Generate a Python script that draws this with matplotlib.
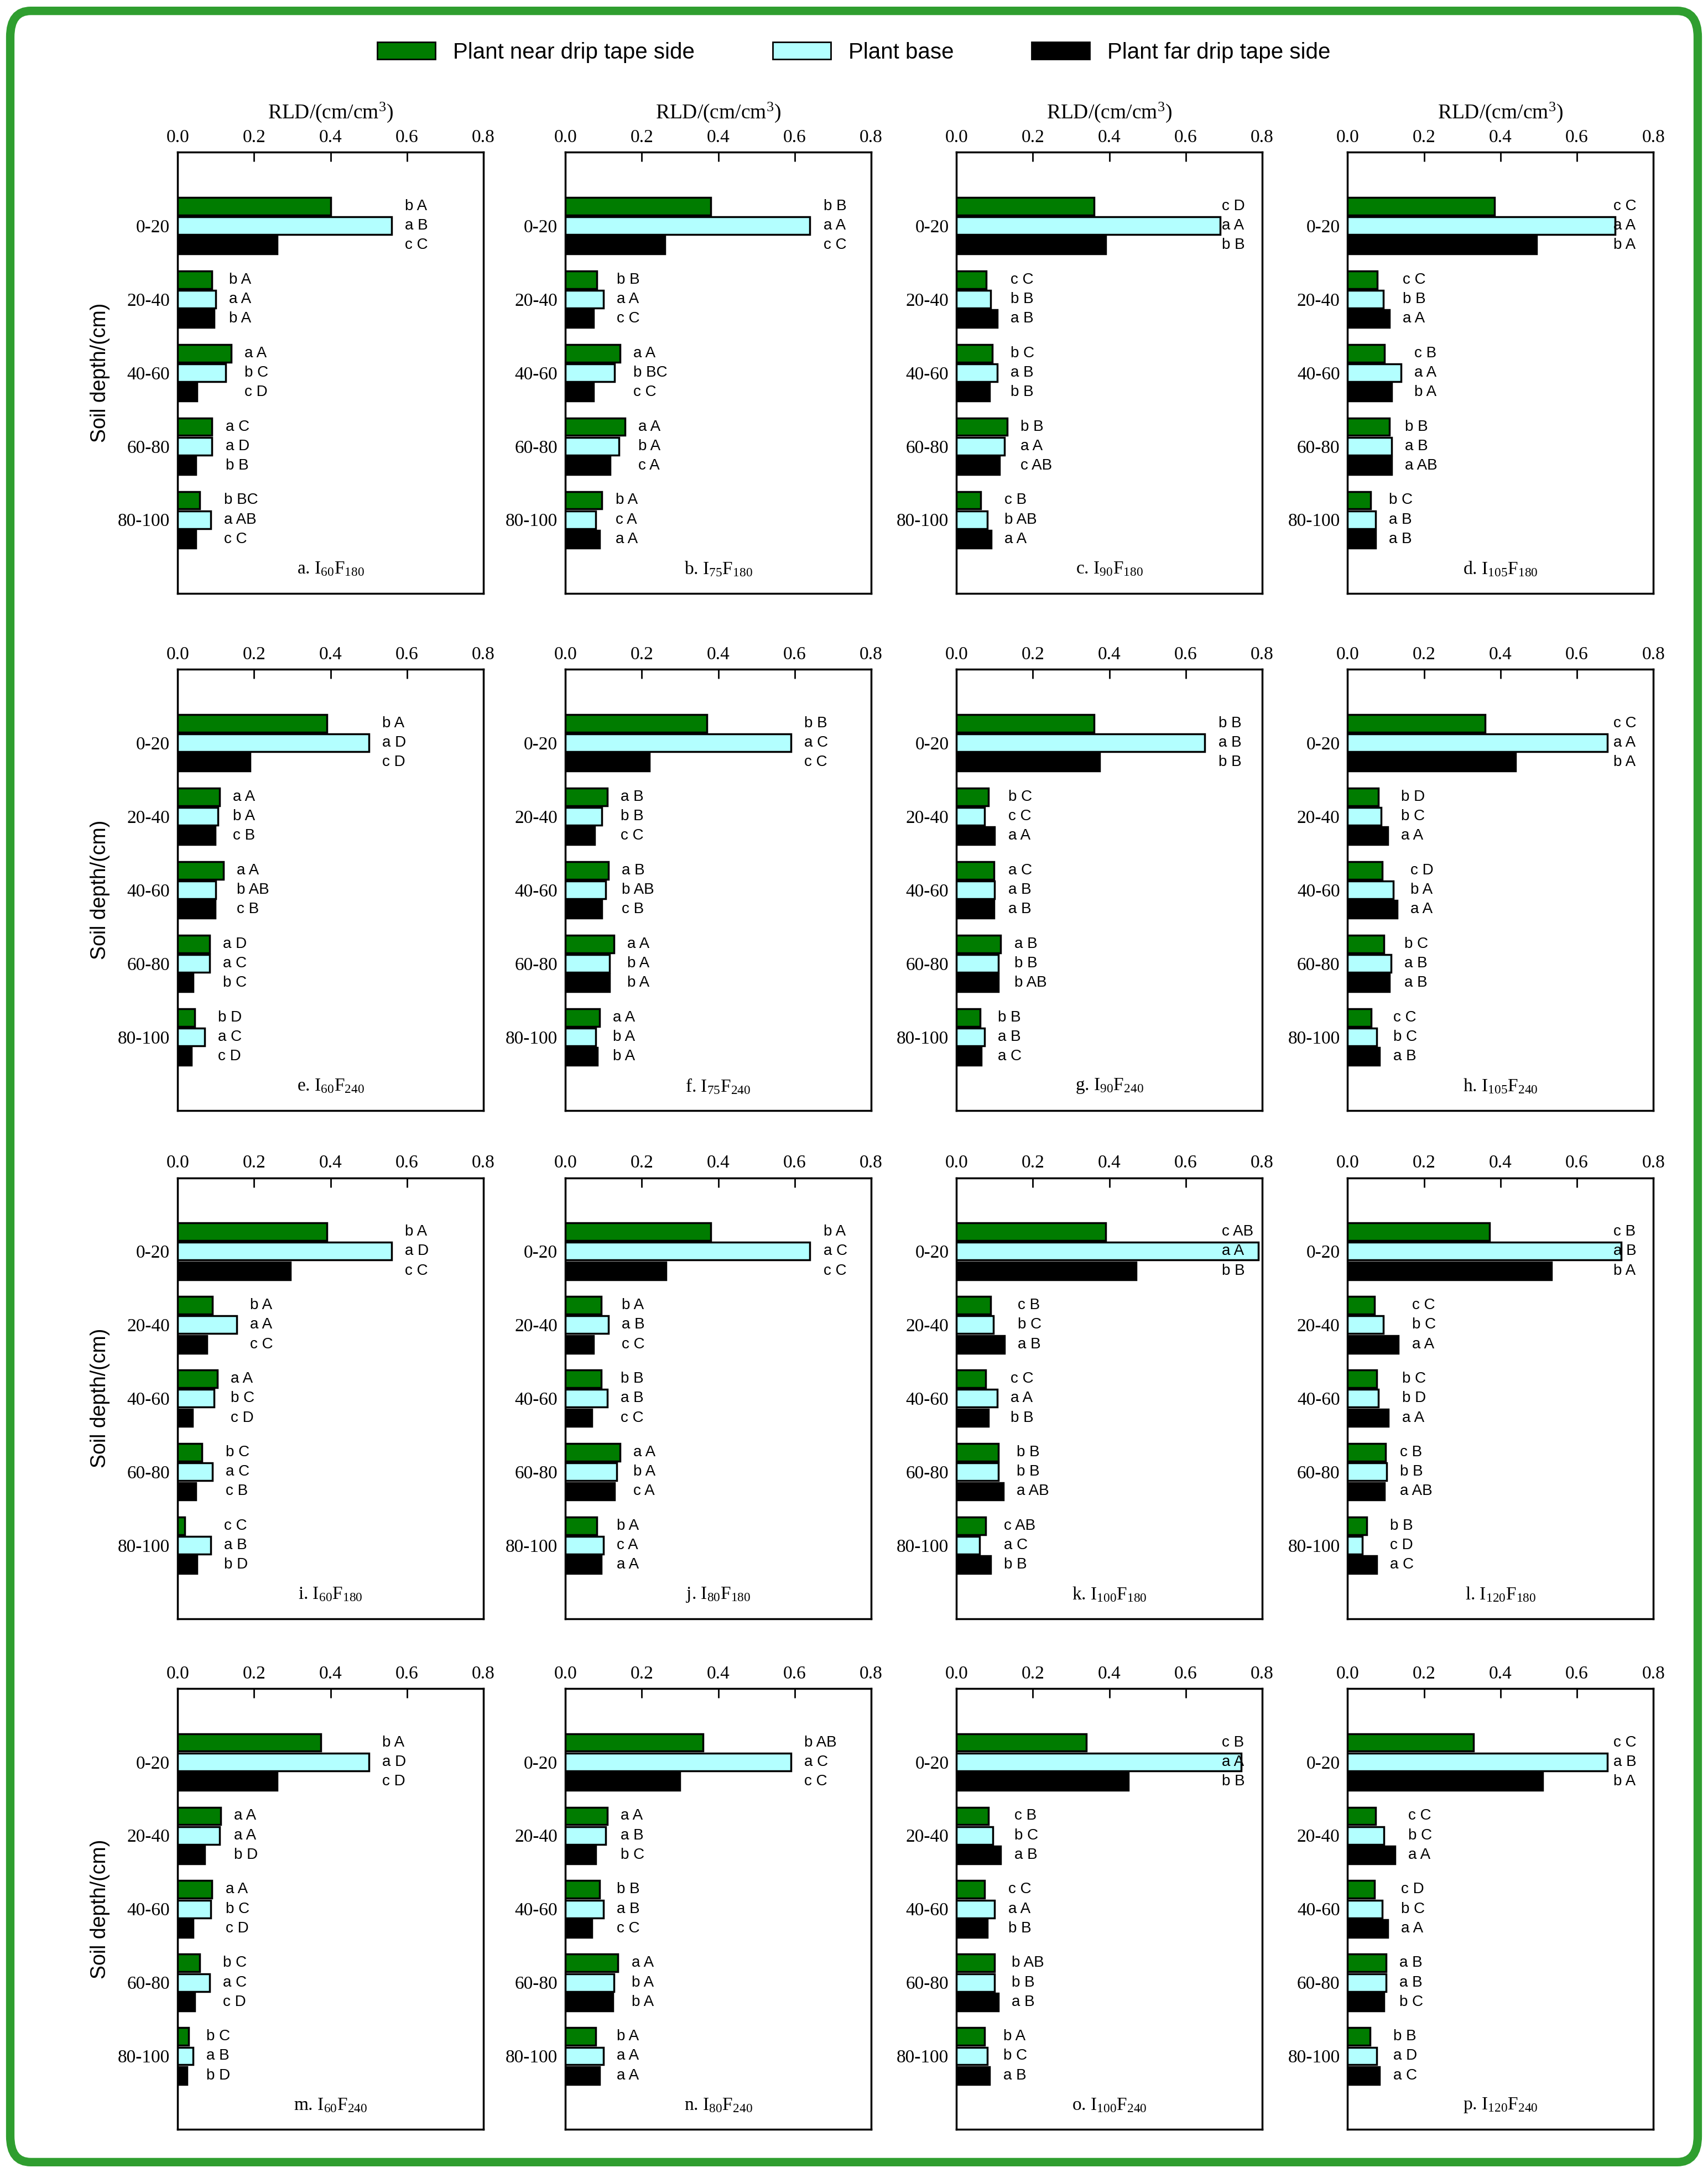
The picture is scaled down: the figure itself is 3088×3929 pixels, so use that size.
import matplotlib
matplotlib.use("Agg")
import matplotlib.pyplot as plt
from matplotlib.patches import FancyBboxPatch, Patch

plt.rcParams["mathtext.fontset"] = "custom"
plt.rcParams["mathtext.rm"] = "Liberation Serif"
plt.rcParams["mathtext.it"] = "Liberation Serif:italic"

depths = ["0-20", "20-40", "40-60", "60-80", "80-100"]
series_names = ["Plant near drip tape side", "Plant base", "Plant far drip tape side"]
panel_titles = [
    ("a", "60", "180"), ("b", "75", "180"), ("c", "90", "180"), ("d", "105", "180"),
    ("e", "60", "240"), ("f", "75", "240"), ("g", "90", "240"), ("h", "105", "240"),
    ("i", "60", "180"), ("j", "80", "180"), ("k", "100", "180"), ("l", "120", "180"),
    ("m", "60", "240"), ("n", "80", "240"), ("o", "100", "240"), ("p", "120", "240"),
]

# per panel: near, base, far (depth order 0-20 .. 80-100)
near = [
    [0.40, 0.09, 0.14, 0.09, 0.057], [0.38, 0.083, 0.143, 0.156, 0.096],
    [0.36, 0.078, 0.094, 0.133, 0.063], [0.385, 0.078, 0.096, 0.109, 0.06],
    [0.39, 0.11, 0.12, 0.084, 0.044], [0.37, 0.11, 0.113, 0.127, 0.09],
    [0.36, 0.084, 0.098, 0.116, 0.062], [0.36, 0.08, 0.09, 0.095, 0.062],
    [0.39, 0.091, 0.104, 0.063, 0.018], [0.38, 0.094, 0.094, 0.143, 0.083],
    [0.39, 0.089, 0.076, 0.109, 0.076], [0.372, 0.07, 0.076, 0.099, 0.05],
    [0.375, 0.113, 0.09, 0.058, 0.029], [0.36, 0.11, 0.09, 0.138, 0.08],
    [0.34, 0.084, 0.073, 0.10, 0.073], [0.33, 0.073, 0.07, 0.10, 0.058],
]
base = [
    [0.56, 0.10, 0.125, 0.09, 0.086], [0.64, 0.10, 0.128, 0.14, 0.08],
    [0.69, 0.089, 0.107, 0.125, 0.081], [0.70, 0.094, 0.14, 0.115, 0.073],
    [0.50, 0.105, 0.10, 0.084, 0.07], [0.59, 0.095, 0.105, 0.116, 0.08],
    [0.65, 0.073, 0.10, 0.11, 0.073], [0.68, 0.087, 0.12, 0.113, 0.076],
    [0.56, 0.154, 0.096, 0.091, 0.086], [0.64, 0.112, 0.11, 0.135, 0.10],
    [0.79, 0.096, 0.107, 0.109, 0.06], [0.716, 0.094, 0.081, 0.102, 0.039],
    [0.50, 0.11, 0.087, 0.084, 0.04], [0.59, 0.105, 0.10, 0.127, 0.10],
    [0.745, 0.095, 0.10, 0.10, 0.08], [0.68, 0.095, 0.09, 0.10, 0.076],
]
far = [
    [0.26, 0.096, 0.05, 0.047, 0.047], [0.26, 0.073, 0.073, 0.117, 0.089],
    [0.39, 0.107, 0.086, 0.112, 0.091], [0.495, 0.109, 0.115, 0.115, 0.073],
    [0.19, 0.098, 0.098, 0.04, 0.036], [0.22, 0.076, 0.095, 0.116, 0.084],
    [0.375, 0.10, 0.098, 0.11, 0.065], [0.44, 0.105, 0.13, 0.11, 0.084],
    [0.295, 0.076, 0.039, 0.047, 0.05], [0.263, 0.073, 0.07, 0.128, 0.094],
    [0.47, 0.125, 0.083, 0.122, 0.089], [0.534, 0.133, 0.107, 0.096, 0.076],
    [0.26, 0.07, 0.04, 0.044, 0.025], [0.30, 0.08, 0.07, 0.124, 0.09],
    [0.45, 0.116, 0.08, 0.11, 0.087], [0.51, 0.124, 0.105, 0.095, 0.084],
]
letters = [
    [["b A", "a B", "c C"], ["b A", "a A", "b A"], ["a A", "b C", "c D"], ["a C", "a D", "b B"], ["b BC", "a AB", "c C"]],
    [["b B", "a A", "c C"], ["b B", "a A", "c C"], ["a A", "b BC", "c C"], ["a A", "b A", "c A"], ["b A", "c A", "a A"]],
    [["c D", "a A", "b B"], ["c C", "b B", "a B"], ["b C", "a B", "b B"], ["b B", "a A", "c AB"], ["c B", "b AB", "a A"]],
    [["c C", "a A", "b A"], ["c C", "b B", "a A"], ["c B", "a A", "b A"], ["b B", "a B", "a AB"], ["b C", "a B", "a B"]],
    [["b A", "a D", "c D"], ["a A", "b A", "c B"], ["a A", "b AB", "c B"], ["a D", "a C", "b C"], ["b D", "a C", "c D"]],
    [["b B", "a C", "c C"], ["a B", "b B", "c C"], ["a B", "b AB", "c B"], ["a A", "b A", "b A"], ["a A", "b A", "b A"]],
    [["b B", "a B", "b B"], ["b C", "c C", "a A"], ["a C", "a B", "a B"], ["a B", "b B", "b AB"], ["b B", "a B", "a C"]],
    [["c C", "a A", "b A"], ["b D", "b C", "a A"], ["c D", "b A", "a A"], ["b C", "a B", "a B"], ["c C", "b C", "a B"]],
    [["b A", "a D", "c C"], ["b A", "a A", "c C"], ["a A", "b C", "c D"], ["b C", "a C", "c B"], ["c C", "a B", "b D"]],
    [["b A", "a C", "c C"], ["b A", "a B", "c C"], ["b B", "a B", "c C"], ["a A", "b A", "c A"], ["b A", "c A", "a A"]],
    [["c AB", "a A", "b B"], ["c B", "b C", "a B"], ["c C", "a A", "b B"], ["b B", "b B", "a AB"], ["c AB", "a C", "b B"]],
    [["c B", "a B", "b A"], ["c C", "b C", "a A"], ["b C", "b D", "a A"], ["c B", "b B", "a AB"], ["b B", "c D", "a C"]],
    [["b A", "a D", "c D"], ["a A", "a A", "b D"], ["a A", "b C", "c D"], ["b C", "a C", "c D"], ["b C", "a B", "b D"]],
    [["b AB", "a C", "c C"], ["a A", "a B", "b C"], ["b B", "a B", "c C"], ["a A", "b A", "b A"], ["b A", "a A", "a A"]],
    [["c B", "a A", "b B"], ["c B", "b C", "a B"], ["c C", "a A", "b B"], ["b AB", "b B", "a B"], ["b A", "b C", "a B"]],
    [["c C", "a B", "b A"], ["c C", "b C", "a A"], ["c D", "b C", "a A"], ["a B", "a B", "b C"], ["b B", "a D", "a C"]],
]

colors = ["#007c00", "#b3ffff", "#000000"]
serif = "Liberation Serif"
sans = "Liberation Sans"

fig = plt.figure(figsize=(30.88, 39.29), dpi=100)
fig.patches.append(FancyBboxPatch((0.006, 0.005), 0.988, 0.99, boxstyle="round,pad=0,rounding_size=0.012",
                                  transform=fig.transFigure, fill=False, edgecolor="#2f9e2f", linewidth=11))

col_left = [0.104, 0.331, 0.560, 0.789]
row_top = [0.930, 0.692, 0.458, 0.223]
w, h = 0.179, 0.203
bar_h = 0.24
offs = [-0.265, 0.0, 0.265]

for idx in range(16):
    r, c = divmod(idx, 4)
    ax = fig.add_axes([col_left[c], row_top[r] - h, w, h])
    vals = [near[idx], base[idx], far[idx]]
    for s in range(3):
        ax.barh([k + 1 + offs[s] for k in range(5)], vals[s], height=bar_h,
                color=colors[s], edgecolor="black", linewidth=2.5, zorder=3)
    for k in range(5):
        mx = max(v[k] for v in vals)
        lx = min(mx + 0.035, 0.695)
        for s in range(3):
            ax.text(lx, k + 1 + offs[s], letters[idx][k][s], fontsize=20, family=sans,
                    va="center", ha="left", zorder=4)
    ax.set_xlim(0, 0.8)
    ax.set_ylim(6, 0)
    ax.xaxis.tick_top()
    ax.set_xticks([0, 0.2, 0.4, 0.6, 0.8])
    ax.set_xticklabels(["0.0", "0.2", "0.4", "0.6", "0.8"], family=serif, fontsize=24)
    ax.tick_params(axis="x", direction="in", length=12, width=2, pad=8)
    ax.set_yticks(range(1, 6))
    ax.set_yticklabels(depths, family=serif, fontsize=24)
    ax.tick_params(axis="y", length=0, pad=10)
    for sp in ax.spines.values():
        sp.set_linewidth(2.5)
    letter, i_, f_ = panel_titles[idx]
    ax.text(0.5, 0.055, f"{letter}. I$_{{\\mathregular{{{i_}}}}}$F$_{{\\mathregular{{{f_}}}}}$",
            transform=ax.transAxes, ha="center", va="center", family=serif, fontsize=24)
    if r == 0:
        ax.set_xlabel("RLD/(cm/cm$^\\mathregular{3}$)", family=serif, fontsize=27, labelpad=14)
        ax.xaxis.set_label_position("top")
    if c == 0:
        ax.set_ylabel("Soil depth/(cm)", family=sans, fontsize=27, labelpad=10)

handles = [Patch(facecolor=colors[s], edgecolor="black", linewidth=2) for s in range(3)]
fig.legend(handles, series_names, loc="upper center", bbox_to_anchor=(0.5, 0.99), ncol=3,
           frameon=False, prop={"family": sans, "size": 29}, handlelength=2.6, handleheight=0.8,
           columnspacing=3.5)

fig.savefig("out.png", dpi=100)
